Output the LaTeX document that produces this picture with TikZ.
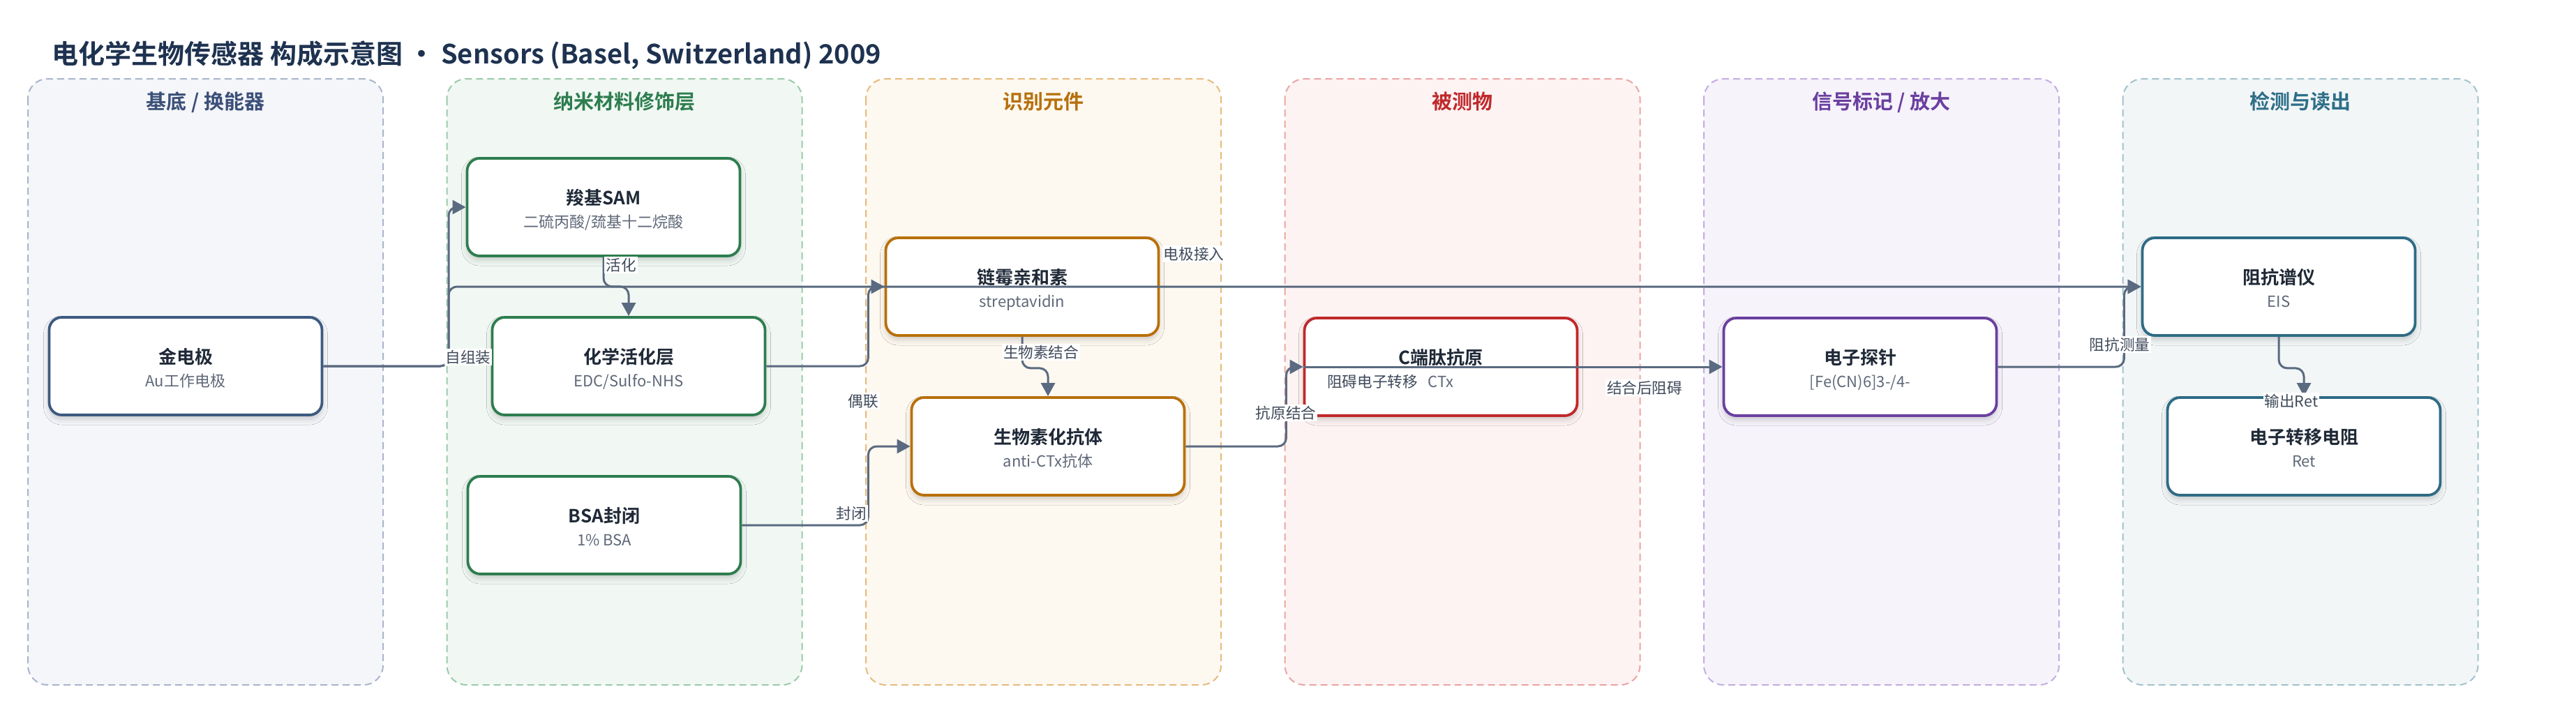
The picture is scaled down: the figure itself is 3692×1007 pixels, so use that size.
\documentclass[tikz,border=0pt]{standalone}
\usepackage{fontspec}
\setmainfont{Noto Sans CJK SC}[BoldFont={Noto Sans CJK SC Bold}]
\usetikzlibrary{arrows.meta,shadows.blur,calc}
\definecolor{edgec}{HTML}{5A6A80}
\definecolor{titlec}{HTML}{1E3250}
\definecolor{ntext}{HTML}{1F2937}
\definecolor{subc}{HTML}{5F6878}
\definecolor{lblc}{HTML}{3F4A5A}
% lanes
\definecolor{laAf}{HTML}{F5F6FA}\definecolor{laAd}{HTML}{A9B6CC}\definecolor{laAt}{HTML}{3B5078}
\definecolor{laBf}{HTML}{F1F8F3}\definecolor{laBd}{HTML}{9CCAAB}\definecolor{laBt}{HTML}{2E7D4F}
\definecolor{laCf}{HTML}{FDF8F0}\definecolor{laCd}{HTML}{E6BB80}\definecolor{laCt}{HTML}{B7700C}
\definecolor{laDf}{HTML}{FDF3F3}\definecolor{laDd}{HTML}{EBA5A5}\definecolor{laDt}{HTML}{C0292B}
\definecolor{laEf}{HTML}{F6F3FB}\definecolor{laEd}{HTML}{C4AEE0}\definecolor{laEt}{HTML}{6B3FA0}
\definecolor{laFf}{HTML}{F2F6F7}\definecolor{laFd}{HTML}{A3C2CD}\definecolor{laFt}{HTML}{2E6E88}
% node borders
\definecolor{nA}{HTML}{3D5A80}
\definecolor{nB}{HTML}{2E7D4F}
\definecolor{nC}{HTML}{B8700A}
\definecolor{nD}{HTML}{C0282A}
\definecolor{nE}{HTML}{6A3FA0}
\definecolor{nF}{HTML}{2E6B85}
\tikzset{
  lanebox/.style={line width=1pt, dash pattern=on 5pt off 3pt, rounded corners=14pt},
  lanetitle/.style={anchor=base, inner sep=0pt, font=\bfseries\fontsize{14.5}{17}\selectfont},
  nodebox/.style={fill=white, line width=1.9pt, rounded corners=9pt,
    minimum width=195.5pt, minimum height=70pt, inner sep=0pt,
    blur shadow={shadow xshift=0pt, shadow yshift=-3pt, shadow blur radius=4pt, shadow opacity=18}},
  ntitle/.style={anchor=base, inner sep=0pt, text=ntext, font=\bfseries\fontsize{13}{15}\selectfont},
  nsub/.style={anchor=base, inner sep=0pt, text=subc, font=\fontsize{11}{13}\selectfont},
  lbl/.style={fill=white, inner sep=1pt, text=lblc, font=\fontsize{10.8}{12}\selectfont},
  conn/.style={draw=edgec, line width=1.5pt, rounded corners=6pt,
    -{Triangle[length=9.5pt,width=10pt]}},
}
\newcommand{\mkbox}[6]{%
  \node[nodebox,draw=#4] (#1) at (#2,#3) {};
  \node[ntitle] (#1-t) at ($(#1.center)+(0,-4)$) {#5};
  \node[nsub] (#1-s) at ($(#1.center)+(0,29)$) {#6};
}
\newcommand{\mklane}[6]{%
  \draw[lanebox,fill=#3,draw=#4] (#2,113) rectangle ++(509,869);
  \node[lanetitle,text=#5] (#1) at (#2+254.5,156) {#6};
}
\begin{document}
\begin{tikzpicture}[x=0.5pt,y=-0.5pt]
\useasboundingbox (0,0) rectangle (3692,1007);
\fill[white] (0,0) rectangle (3692,1007);

\node[anchor=base west, inner sep=0pt, text=titlec, font=\bfseries\fontsize{19}{22}\selectfont] (title) at (74,91)
  {电化学生物传感器 构成示意图 · Sensors (Basel, Switzerland) 2009};

\mklane{lane1}{40}{laAf}{laAd}{laAt}{基底 / 换能器}
\mklane{lane2}{640.5}{laBf}{laBd}{laBt}{纳米材料修饰层}
\mklane{lane3}{1241}{laCf}{laCd}{laCt}{识别元件}
\mklane{lane4}{1841.5}{laDf}{laDd}{laDt}{被测物}
\mklane{lane5}{2442}{laEf}{laEd}{laEt}{信号标记 / 放大}
\mklane{lane6}{3042.5}{laFf}{laFd}{laFt}{检测与读出}

\mkbox{gold}{266}{525}{nA}{金电极}{Au工作电极}
\mkbox{sam}{865}{297}{nB}{羧基SAM}{二硫丙酸/巯基十二烷酸}
\mkbox{act}{901}{525}{nB}{化学活化层}{EDC/Sulfo-NHS}
\mkbox{bsa}{866}{753}{nB}{BSA封闭}{1\% BSA}
\mkbox{strep}{1465}{411}{nC}{链霉亲和素}{streptavidin}
\mkbox{ab}{1502}{640}{nC}{生物素化抗体}{anti-CTx抗体}
\mkbox{ag}{2065}{526}{nD}{C端肽抗原}{CTx}
\mkbox{probe}{2666}{526}{nE}{电子探针}{[Fe(CN)6]3-/4-}
\mkbox{eis}{3266}{411}{nF}{阻抗谱仪}{EIS}
\mkbox{ret}{3302}{640}{nF}{电子转移电阻}{Ret}

\coordinate (j1) at (643,525);
\draw[conn] (gold.east) -- (j1) |- (sam.west);
\draw[conn] (gold.east) -- (j1) |- (eis.west);
\draw[conn] (sam.south) -- ++(0,42) -| (act.north);
\draw[conn] (act.east) -- ++(146,0) |- (strep.west);
\draw[conn] (bsa.east) -- ++(181,0) |- (ab.west);
\draw[conn] (strep.south) -- ++(0,45) -| (ab.north);
\draw[conn] (ab.east) -- ++(144,0) |- (ag.west);
\draw[conn] (ag.west) -- (probe.west);
\draw[conn] (probe.east) -- ++(181,0) |- (eis.west);
\draw[conn] (eis.south) -- ++(0,45) -| (ret.north);

\node[lbl] (l1) at (671,512) {自组装};
\node[lbl] (l2) at (1711,364) {电极接入};
\node[lbl] (l3) at (890,380) {活化};
\node[lbl] (l4) at (1237,575) {偶联};
\node[lbl] (l5) at (1220,736) {封闭};
\node[lbl] (l6) at (1492,505) {生物素结合};
\node[lbl] (l7) at (1843,592) {抗原结合};
\node[lbl] (l8) at (1967,547) {阻碍电子转移};
\node[lbl] (l9) at (2357,556) {结合后阻碍};
\node[lbl] (l10) at (3038,494) {阻抗测量};
\node[lbl] (l11) at (3284,575) {输出Ret};
\end{tikzpicture}
\end{document}
